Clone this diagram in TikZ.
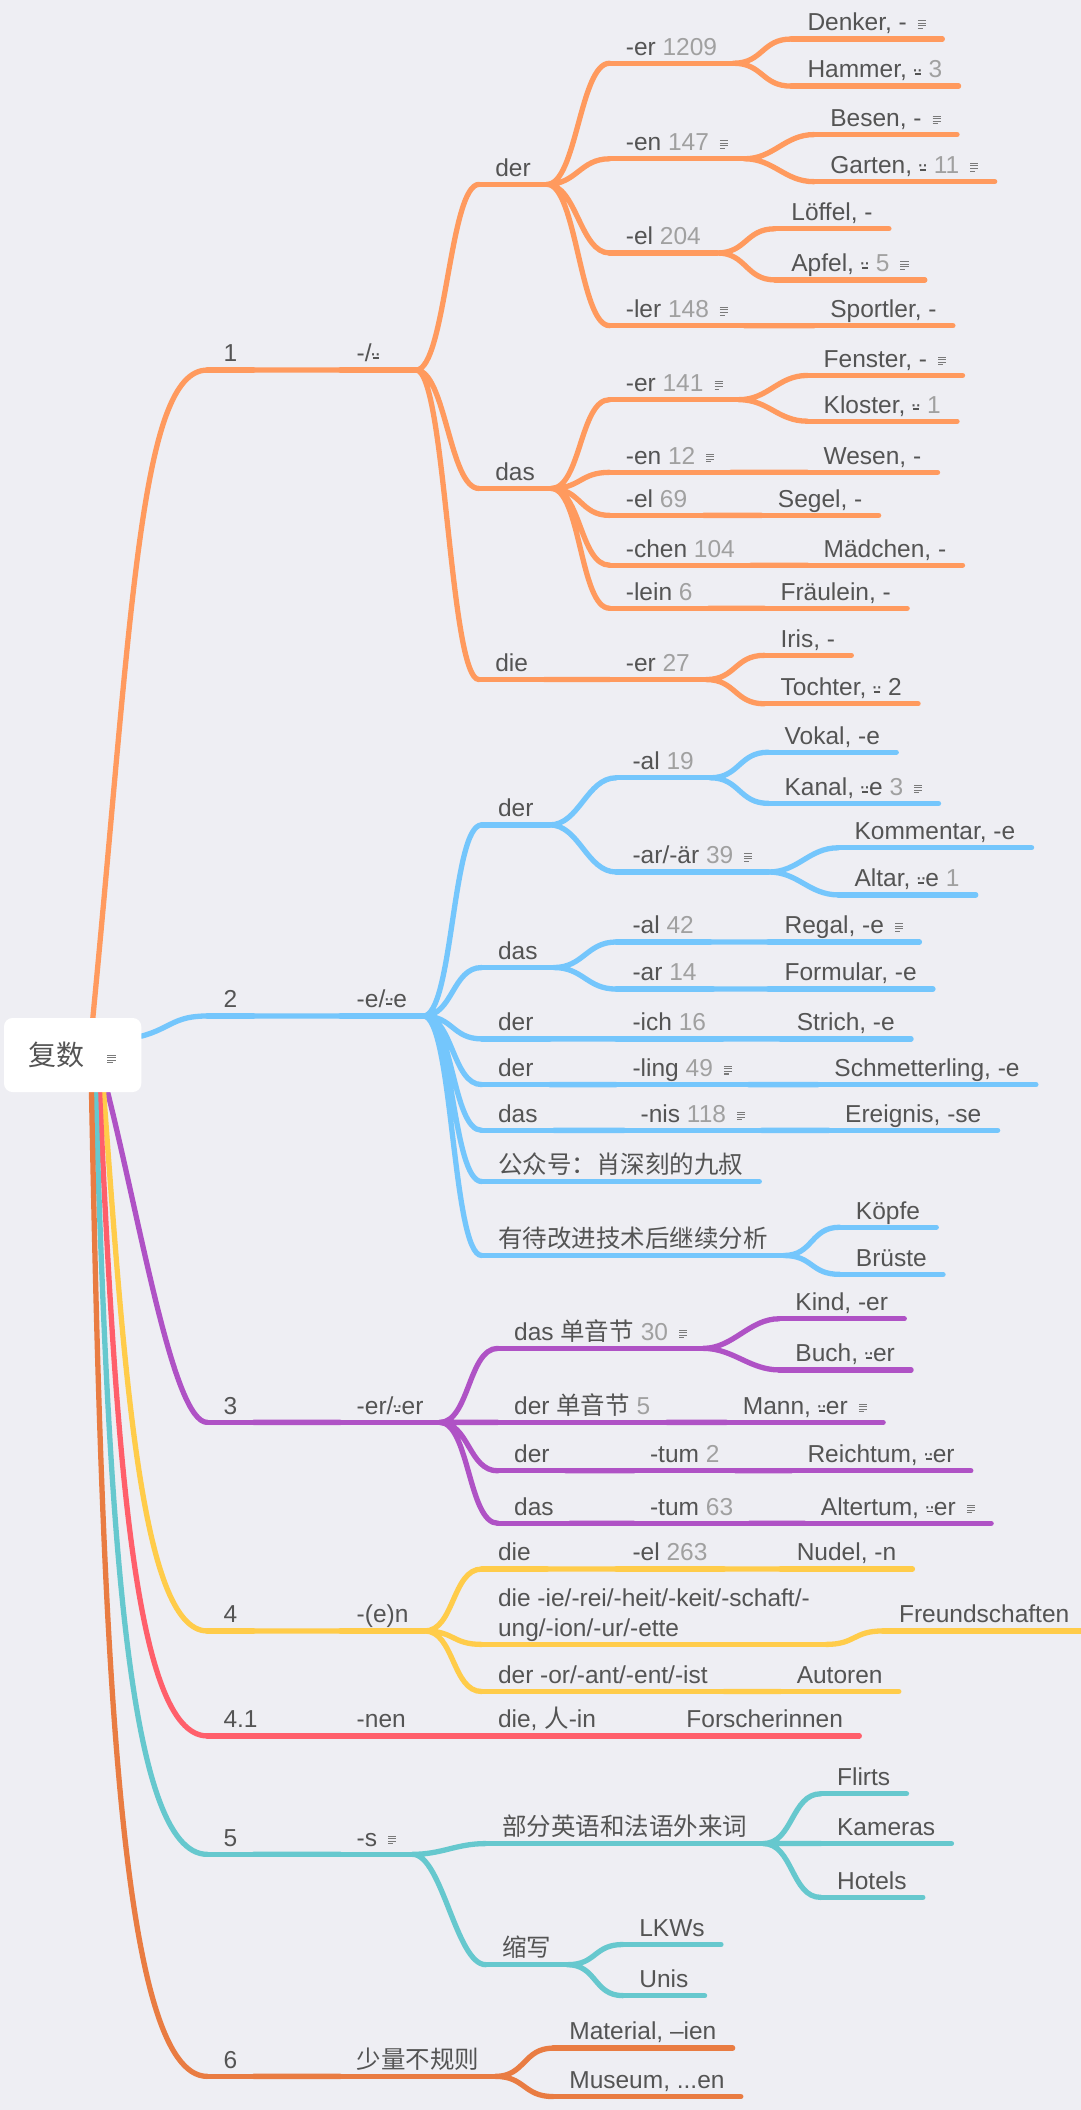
\documentclass[tikz,border=0pt]{standalone}
\usepackage{fontspec}
\setmainfont{Liberation Sans}
\newfontfamily\cjk{Noto Sans CJK SC}
\usetikzlibrary{backgrounds}
\definecolor{Bg}   {HTML}{EEEEF3}
\definecolor{Txt}  {HTML}{545454}
\definecolor{Num}  {HTML}{A0A0A0}
\definecolor{Icon} {HTML}{7A7A7A}
\definecolor{Orng} {HTML}{FF9A5E}
\definecolor{Sky}  {HTML}{74C6FC}
\definecolor{Purp} {HTML}{AF52C5}
\definecolor{Yell} {HTML}{FFCC4A}
\definecolor{Rose} {HTML}{FF5F6B}
\definecolor{Teal} {HTML}{66C8CE}
\definecolor{Rust} {HTML}{E97C42}
\newcommand{\cnt}[1]{\textcolor{Num}{#1}}
\newcommand{\noteic}{\hspace{.45em}\raisebox{.08em}{\color{Icon}\vbox{%
  \hrule width .33em height 1.1pt \vskip 1.6pt
  \hrule width .33em height 1.1pt \vskip 1.6pt
  \hrule width .33em height 1.1pt \vskip 1.6pt
  \hrule width .2em height 1.1pt}}}
% umlaut sign over a short dash
\newcommand{\umd}{\ooalign{\hfil\raisebox{-.33em}{¨}\hfil\cr
  \hfil\rule[.11em]{.24em}{.08em}\hfil\cr}}
\tikzset{
  ln/.style={draw=#1, line width=5.6pt, line cap=round},
  tp/.style={
    anchor=south west, inner xsep=17pt, inner ysep=2.8pt,
    text height=19pt, text depth=5.6pt, text=Txt,
    font=\fontsize{25.9}{32}\selectfont,
    append after command={(\tikzlastnode.south west)
      edge[ln=#1] (\tikzlastnode.south east)},
  },
  sc/.style={to path={.. controls +(22,0) and +(-22,0) .. (\tikztotarget)}},
  rootbox/.style={
    rectangle, rounded corners=9pt, fill=white, text=Txt,
    font=\cjk\fontsize{29.6}{34}\selectfont,
    minimum width=51mm, minimum height=27.5mm,
  },
}
\begin{document}
\begin{tikzpicture}[x=0.5mm,y=-0.5mm]
\useasboundingbox (0,0) rectangle (803,1568);

% branch 1
\node[tp=Orng] (N1) at (154,275) {1};
\node[tp=Orng, text width=16mm] (E1) at (253,275) {-/\umd};
\node[tp=Orng] (DER1) at (356,137) {der};
\node[tp=Orng] (ER1) at (453,47) {-er \cnt{1209}};
\node[tp=Orng] (DENKER) at (588,29) {Denker, -\noteic};
\node[tp=Orng] (HAMMER) at (588,64) {Hammer, \umd{} \cnt{3}};
\node[tp=Orng] (EN1) at (453,118) {-en \cnt{147}\noteic};
\node[tp=Orng] (BESEN) at (605,100) {Besen, -\noteic};
\node[tp=Orng] (GARTEN) at (605,135) {Garten, \umd{} \cnt{11}\noteic};
\node[tp=Orng] (EL1) at (453,188) {-el \cnt{204}};
\node[tp=Orng] (LOEFFEL) at (576,170) {Löffel, -};
\node[tp=Orng] (APFEL) at (576,208) {Apfel, \umd{} \cnt{5}\noteic};
\node[tp=Orng] (LER1) at (453,242) {-ler \cnt{148}\noteic};
\node[tp=Orng] (SPORTLER) at (605,242) {Sportler, -};
\node[tp=Orng] (DAS1) at (356,363) {das};
\node[tp=Orng] (ER2) at (453,297) {-er \cnt{141}\noteic};
\node[tp=Orng] (FENSTER) at (600,279) {Fenster, -\noteic};
\node[tp=Orng] (KLOSTER) at (600,313) {Kloster, \umd{} \cnt{1}};
\node[tp=Orng] (EN2) at (453,351) {-en \cnt{12}\noteic};
\node[tp=Orng] (WESEN) at (600,351) {Wesen, -};
\node[tp=Orng] (EL2) at (453,383) {-el \cnt{69}};
\node[tp=Orng] (SEGEL) at (566,383) {Segel, -};
\node[tp=Orng] (CHEN) at (453,420) {-chen \cnt{104}};
\node[tp=Orng] (MAEDCHEN) at (600,420) {Mädchen, -};
\node[tp=Orng] (LEIN) at (453,452) {-lein \cnt{6}};
\node[tp=Orng] (FRAEULEIN) at (568,452) {Fräulein, -};
\node[tp=Orng] (DIE1) at (356,505) {die};
\node[tp=Orng] (ER3) at (453,505) {-er \cnt{27}};
\node[tp=Orng] (IRIS) at (568,487) {Iris, -};
\node[tp=Orng] (TOCHTER) at (568,523) {Tochter, \umd{} 2};

% branch 2
\node[tp=Sky] (N2) at (154,755) {2};
\node[tp=Sky] (E2) at (253,755) {-e/\umd e};
\node[tp=Sky] (DER2) at (358,613) {der};
\node[tp=Sky] (AL1) at (458,578) {-al \cnt{19}};
\node[tp=Sky] (VOKAL) at (571,559) {Vokal, -e};
\node[tp=Sky] (KANAL) at (571,597) {Kanal, \umd e \cnt{3}\noteic};
\node[tp=Sky] (AR1) at (458,648) {-ar/-är \cnt{39}\noteic};
\node[tp=Sky] (KOMMENTAR) at (623,630) {Kommentar, -e};
\node[tp=Sky] (ALTAR) at (623,665) {Altar, \umd e \cnt{1}};
\node[tp=Sky] (DAS2) at (358,719) {das};
\node[tp=Sky] (AL2) at (458,700) {-al \cnt{42}};
\node[tp=Sky] (REGAL) at (571,700) {Regal, -e\noteic};
\node[tp=Sky] (AR2) at (458,735) {-ar \cnt{14}};
\node[tp=Sky] (FORMULAR) at (571,735) {Formular, -e};
\node[tp=Sky] (DER3) at (358,772) {der};
\node[tp=Sky] (ICH) at (458,772) {-ich \cnt{16}};
\node[tp=Sky] (STRICH) at (580,772) {Strich, -e};
\node[tp=Sky] (DER4) at (358,806) {der};
\node[tp=Sky] (LING) at (458,806) {-ling \cnt{49}\noteic};
\node[tp=Sky] (SCHMETT) at (608,806) {Schmetterling, -e};
\node[tp=Sky] (DAS3) at (358,840) {das};
\node[tp=Sky] (NIS) at (464,840) {-nis \cnt{118}\noteic};
\node[tp=Sky] (EREIGNIS) at (616,840) {Ereignis, -se};
\node[tp=Sky] (GZH) at (358,878) {\cjk 公众号：肖深刻的九叔};
\node[tp=Sky] (TODO) at (358,933) {\cjk 有待改进技术后继续分析};
\node[tp=Sky] (KOEPFE) at (624,912) {Köpfe};
\node[tp=Sky] (BRUESTE) at (624,947) {Brüste};

% branch 3
\node[tp=Purp] (N3) at (154,1057) {3};
\node[tp=Purp] (E3) at (253,1057) {-er/\umd er};
\node[tp=Purp] (DAS4) at (370,1002) {das {\cjk 单音节} \cnt{30}\noteic};
\node[tp=Purp] (KIND) at (579,980) {Kind, -er};
\node[tp=Purp] (BUCH) at (579,1018) {Buch, \umd er};
\node[tp=Purp] (DER5) at (370,1057) {der {\cjk 单音节} \cnt{5}};
\node[tp=Purp] (MANN) at (540,1057) {Mann, \umd er\noteic};
\node[tp=Purp] (DER6) at (370,1093) {der};
\node[tp=Purp] (TUM1) at (471,1093) {-tum \cnt{2}};
\node[tp=Purp] (REICHTUM) at (588,1093) {Reichtum, \umd er};
\node[tp=Purp] (DAS5) at (370,1132) {das};
\node[tp=Purp] (TUM2) at (471,1132) {-tum \cnt{63}};
\node[tp=Purp] (ALTERTUM) at (598,1132) {Altertum, \umd er\noteic};

% branch 4
\node[tp=Yell] (N4) at (154,1212) {4};
\node[tp=Yell] (E4) at (253,1212) {-(e)n};
\node[tp=Yell] (DIE2) at (358,1166) {die};
\node[tp=Yell] (EL3) at (458,1166) {-el \cnt{263}};
\node[tp=Yell] (NUDEL) at (580,1166) {Nudel, -n};
\node[tp=Yell, text height=51pt] (DIE3) at (358,1222)
      {\begin{tabular}[b]{@{}l@{}}die -ie/-rei/-heit/-keit/-schaft/-\\
       ung/-ion/-ur/-ette\end{tabular}};
\node[tp=Yell] (FREUND) at (656,1212) {Freundschaften};
\node[tp=Yell] (DER7) at (358,1257) {der -or/-ant/-ent/-ist};
\node[tp=Yell] (AUTOREN) at (580,1257) {Autoren};

% branch 4.1
\node[tp=Rose] (N41) at (154,1290) {4.1};
\node[tp=Rose] (E41) at (253,1290) {-nen};
\node[tp=Rose] (DIE4) at (358,1290) {die, {\cjk 人}-in};
\node[tp=Rose] (FORSCHER) at (498,1290) {Forscherinnen};

% branch 5
\node[tp=Teal] (N5) at (154,1378) {5};
\node[tp=Teal] (E5) at (253,1378) {-s\noteic};
\node[tp=Teal] (FRW) at (361,1370) {\cjk 部分英语和法语外来词};
\node[tp=Teal] (FLIRTS) at (610,1333) {Flirts};
\node[tp=Teal] (KAMERAS) at (610,1370) {Kameras};
\node[tp=Teal] (HOTELS) at (610,1410) {Hotels};
\node[tp=Teal] (ABK) at (361,1460) {\cjk 缩写};
\node[tp=Teal] (LKWS) at (463,1445) {LKWs};
\node[tp=Teal] (UNIS) at (463,1483) {Unis};

% branch 6
\node[tp=Rust] (N6) at (154,1543) {6};
\node[tp=Rust] (E6) at (253,1543) {\cjk 少量不规则};
\node[tp=Rust] (MATERIAL) at (411,1522) {Material, –ien};
\node[tp=Rust] (MUSEUM) at (411,1558) {Museum, ...en};

% root
\node[rootbox] (ROOT) at (54,784) {复数\hspace{.35em}\noteic};
\coordinate (RT)  at ([xshift=7.5mm]ROOT.north);
\coordinate (RE)  at ([yshift=7mm]ROOT.east);
\coordinate (RB1) at ([xshift=13mm]ROOT.south);
\coordinate (RB2) at ([xshift=11.5mm]ROOT.south);
\coordinate (RB3) at ([xshift=10mm]ROOT.south);
\coordinate (RB4) at ([xshift=8.5mm]ROOT.south);
\coordinate (RB5) at ([xshift=7mm]ROOT.south);

\begin{scope}[on background layer]
  \fill[Bg] (0,0) rectangle (803,1568);

  \draw[ln=Orng] (RT) .. controls +(29,-300) and +(-50,0) .. (N1.south west);
  \draw[ln=Orng] (N1.south east) -- (E1.south west)
    (E1.south east) to[sc] (DER1.south west)
    (E1.south east) to[sc] (DAS1.south west)
    (E1.south east) to[sc] (DIE1.south west)
    (DER1.south east) to[sc] (ER1.south west)
    (DER1.south east) to[sc] (EN1.south west)
    (DER1.south east) to[sc] (EL1.south west)
    (DER1.south east) to[sc] (LER1.south west)
    (ER1.south east) to[sc] (DENKER.south west)
    (ER1.south east) to[sc] (HAMMER.south west)
    (EN1.south east) to[sc] (BESEN.south west)
    (EN1.south east) to[sc] (GARTEN.south west)
    (EL1.south east) to[sc] (LOEFFEL.south west)
    (EL1.south east) to[sc] (APFEL.south west)
    (LER1.south east) -- (SPORTLER.south west)
    (DAS1.south east) to[sc] (ER2.south west)
    (DAS1.south east) to[sc] (EN2.south west)
    (DAS1.south east) to[sc] (EL2.south west)
    (DAS1.south east) to[sc] (CHEN.south west)
    (DAS1.south east) to[sc] (LEIN.south west)
    (ER2.south east) to[sc] (FENSTER.south west)
    (ER2.south east) to[sc] (KLOSTER.south west)
    (EN2.south east) -- (WESEN.south west)
    (EL2.south east) -- (SEGEL.south west)
    (CHEN.south east) -- (MAEDCHEN.south west)
    (LEIN.south east) -- (FRAEULEIN.south west)
    (DIE1.south east) -- (ER3.south west)
    (ER3.south east) to[sc] (IRIS.south west)
    (ER3.south east) to[sc] (TOCHTER.south west);

  \draw[ln=Sky] (RE) .. controls +(22,-6) and +(-25,0) .. (N2.south west);
  \draw[ln=Sky] (N2.south east) -- (E2.south west)
    (E2.south east) to[sc] (DER2.south west)
    (E2.south east) to[sc] (DAS2.south west)
    (E2.south east) to[sc] (DER3.south west)
    (E2.south east) to[sc] (DER4.south west)
    (E2.south east) to[sc] (DAS3.south west)
    (E2.south east) to[sc] (GZH.south west)
    (E2.south east) to[sc] (TODO.south west)
    (DER2.south east) to[sc] (AL1.south west)
    (DER2.south east) to[sc] (AR1.south west)
    (AL1.south east) to[sc] (VOKAL.south west)
    (AL1.south east) to[sc] (KANAL.south west)
    (AR1.south east) to[sc] (KOMMENTAR.south west)
    (AR1.south east) to[sc] (ALTAR.south west)
    (DAS2.south east) to[sc] (AL2.south west)
    (DAS2.south east) to[sc] (AR2.south west)
    (AL2.south east) -- (REGAL.south west)
    (AR2.south east) -- (FORMULAR.south west)
    (DER3.south east) -- (ICH.south west)
    (ICH.south east) -- (STRICH.south west)
    (DER4.south east) -- (LING.south west)
    (LING.south east) -- (SCHMETT.south west)
    (DAS3.south east) -- (NIS.south west)
    (NIS.south east) -- (EREIGNIS.south west)
    (TODO.south east) to[sc] (KOEPFE.south west)
    (TODO.south east) to[sc] (BRUESTE.south west);

  \draw[ln=Purp] (RB1) .. controls +(25,100) and +(-25,0) .. (N3.south west);
  \draw[ln=Purp] (N3.south east) -- (E3.south west)
    (E3.south east) to[sc] (DAS4.south west)
    (E3.south east) to[sc] (DER5.south west)
    (E3.south east) to[sc] (DER6.south west)
    (E3.south east) to[sc] (DAS5.south west)
    (DAS4.south east) to[sc] (KIND.south west)
    (DAS4.south east) to[sc] (BUCH.south west)
    (DER5.south east) -- (MANN.south west)
    (DER6.south east) -- (TUM1.south west)
    (TUM1.south east) -- (REICHTUM.south west)
    (DAS5.south east) -- (TUM2.south west)
    (TUM2.south east) -- (ALTERTUM.south west);

  \draw[ln=Yell] (RB2) .. controls +(15,200) and +(-50,0) .. (N4.south west);
  \draw[ln=Yell] (N4.south east) -- (E4.south west)
    (E4.south east) to[sc] (DIE2.south west)
    (E4.south east) to[sc] (DIE3.south west)
    (E4.south east) to[sc] (DER7.south west)
    (DIE2.south east) -- (EL3.south west)
    (EL3.south east) -- (NUDEL.south west)
    (DIE3.south east) to[sc] (FREUND.south west)
    (DER7.south east) -- (AUTOREN.south west);

  \draw[ln=Rose] (RB3) .. controls +(12,260) and +(-55,0) .. (N41.south west);
  \draw[ln=Rose] (N41.south east) -- (E41.south west)
    (E41.south east) -- (DIE4.south west)
    (DIE4.south east) -- (FORSCHER.south west);

  \draw[ln=Teal] (RB4) .. controls +(10,320) and +(-60,0) .. (N5.south west);
  \draw[ln=Teal] (N5.south east) -- (E5.south west)
    (E5.south east) to[sc] (FRW.south west)
    (E5.south east) to[sc] (ABK.south west)
    (FRW.south east) to[sc] (FLIRTS.south west)
    (FRW.south east) to[sc] (KAMERAS.south west)
    (FRW.south east) to[sc] (HOTELS.south west)
    (ABK.south east) to[sc] (LKWS.south west)
    (ABK.south east) to[sc] (UNIS.south west);

  \draw[ln=Rust] (RB5) .. controls +(8,420) and +(-65,0) .. (N6.south west);
  \draw[ln=Rust] (N6.south east) -- (E6.south west)
    (E6.south east) to[sc] (MATERIAL.south west)
    (E6.south east) to[sc] (MUSEUM.south west);
\end{scope}

\end{tikzpicture}
\end{document}
